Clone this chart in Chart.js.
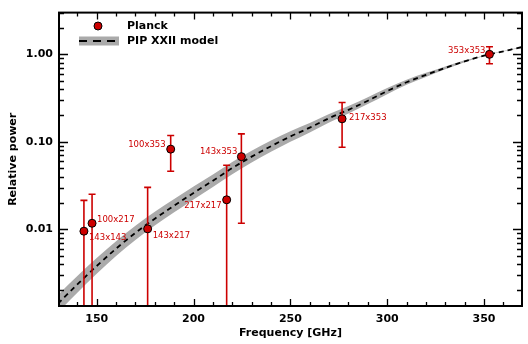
<!DOCTYPE html>
<html><head><meta charset="utf-8">
<script src="https://cdn.jsdelivr.net/npm/chart.js@4/dist/chart.umd.min.js"></script>
<style>html,body{margin:0;padding:0;background:#fff;}canvas{display:block;}</style>
</head><body>
<canvas id="c" width="528" height="344"></canvas>
<script>
// ---- data ----
const pairLabels = ["143x143","100x217","143x217","100x353","217x217","143x353","217x353","353x353"];
const pairFreq   = [143.4, 147.6, 176.3, 188.2, 217.1, 224.7, 276.7, 352.8];
const pairPower  = [0.0095, 0.0117, 0.0101, 0.0824, 0.0217, 0.0676, 0.183, 1.0];
const errHigh    = [0.0214, 0.0251, 0.0301, 0.118, 0.054, 0.123, 0.281, 1.22];
const errLow     = [0.0005, 0.0005, 0.0005, 0.046, 0.0005, 0.0117, 0.0867, 0.78];

const modelFreq  = [130,140,150,160,170,180,190,200,210,220,230,240,250,260,270,280,290,300,310,320,330,340,350,360,370];
const modelPower = [0.00141,0.00234,0.0038,0.0060,0.0091,0.0132,0.0186,0.026,0.0359,0.0501,0.0676,0.0891,0.115,0.145,0.186,0.232,0.295,0.380,0.479,0.582,0.700,0.832,0.966,1.084,1.216];
const modelUpper = [0.001775,0.002912,0.004675,0.007297,0.01099,0.01583,0.02216,0.03083,0.04237,0.05886,0.07888,0.10325,0.13204,0.1642,0.20774,0.25615,0.32273,0.41188,0.51205,0.61366,0.72793,0.85338,0.97267,1.0890,1.2273];
const modelLower = [0.00112,0.00188,0.003089,0.004933,0.007534,0.011005,0.015615,0.021926,0.030416,0.042642,0.057936,0.07689,0.100157,0.12805,0.16653,0.21013,0.26965,0.35059,0.44808,0.55197,0.67314,0.81115,0.95938,1.0790,1.2048];

const xTickValues = [150,200,250,300,350];
const xMinorTicks = [140,160,170,180,190,210,220,230,240,260,270,280,290,310,320,330,340,360];
const yTickValues = [0.01,0.1,1];
const yTickLabels = ["0.01","0.10","1.00"];
const legendLabels = ["Planck","PIP XXII model"];

// ---- styles ----
const RED = '#cc0000';
const FONT = "'DejaVu Sans'";
const labelPlace = [
  {align:'left', dx:5, dy:7},
  {align:'left', dx:5, dy:-3},
  {align:'left', dx:5, dy:7},
  {align:'right', dx:-5, dy:-4},
  {align:'right', dx:-5, dy:6},
  {align:'right', dx:-4, dy:-5},
  {align:'left', dx:7, dy:-1},
  {align:'right', dx:-4, dy:-4}
];

const toXY = (xs, ys) => xs.map((x,i)=>({x, y: ys[i]}));

const errorBars = {
  id:'errorBars',
  beforeDatasetDraw(chart, args){
    if (args.index !== 3) return;
    const {ctx, chartArea:a, scales:{x,y}} = chart;
    ctx.save();
    ctx.beginPath(); ctx.rect(a.left, a.top, a.width, a.height); ctx.clip();
    ctx.strokeStyle = RED; ctx.lineWidth = 1.6;
    pairFreq.forEach((f,i)=>{
      const px = x.getPixelForValue(f);
      const yh = y.getPixelForValue(errHigh[i]);
      const yl = y.getPixelForValue(errLow[i]);
      ctx.beginPath();
      ctx.moveTo(px, yh); ctx.lineTo(px, yl);
      ctx.moveTo(px-3.5, yh); ctx.lineTo(px+3.5, yh);
      ctx.moveTo(px-3.5, yl); ctx.lineTo(px+3.5, yl);
      ctx.stroke();
    });
    ctx.restore();
  },
  afterDatasetsDraw(chart){
    const {ctx, scales:{x,y}} = chart;
    ctx.save();
    ctx.fillStyle = RED;
    ctx.font = "8.5px " + FONT;
    ctx.textBaseline = 'middle';
    pairLabels.forEach((t,i)=>{
      const p = labelPlace[i];
      ctx.textAlign = p.align;
      ctx.fillText(t, x.getPixelForValue(pairFreq[i]) + p.dx, y.getPixelForValue(pairPower[i]) + p.dy);
    });
    ctx.restore();
  }
};

const frame = {
  id:'frame',
  afterDraw(chart){
    const {ctx, chartArea:a, scales:{x,y}} = chart;
    ctx.save();
    ctx.strokeStyle = '#000';
    ctx.lineWidth = 1.3;
    ctx.beginPath();
    const xt = (v, L) => { const px = Math.round(x.getPixelForValue(v))+0.5;
      ctx.moveTo(px, a.bottom); ctx.lineTo(px, a.bottom-L);
      ctx.moveTo(px, a.top); ctx.lineTo(px, a.top+L); };
    xTickValues.forEach(v=>xt(v,7));
    xMinorTicks.forEach(v=>xt(v,4));
    const yt = (v, L) => { if (v < y.min || v > y.max) return;
      const py = Math.round(y.getPixelForValue(v))+0.5;
      ctx.moveTo(a.left, py); ctx.lineTo(a.left+L, py);
      ctx.moveTo(a.right, py); ctx.lineTo(a.right-L, py); };
    [0.001,0.01,0.1,1].forEach(d=>{
      yt(d, 9);
      [2,3,4,5,6,7,8,9].forEach(m=>yt(m*d, 5));
    });
    ctx.stroke();
    ctx.lineWidth = 2;
    ctx.strokeRect(a.left, a.top, a.width, a.height);

    // legend
    ctx.fillStyle = RED; ctx.strokeStyle = '#000'; ctx.lineWidth = 1;
    ctx.beginPath(); ctx.arc(98, 26, 4, 0, Math.PI*2); ctx.fill(); ctx.stroke();
    ctx.fillStyle = '#aaaaaa';
    ctx.fillRect(79, 36.5, 40, 9);
    ctx.strokeStyle = '#000'; ctx.lineWidth = 2; ctx.setLineDash([8,6]);
    ctx.beginPath(); ctx.moveTo(79, 41); ctx.lineTo(119, 41); ctx.stroke();
    ctx.setLineDash([]);
    ctx.fillStyle = '#000';
    ctx.font = "bold 11px " + FONT;
    ctx.textAlign = 'left'; ctx.textBaseline = 'middle';
    ctx.fillText(legendLabels[0], 127, 26);
    ctx.fillText(legendLabels[1], 127, 41);
    ctx.restore();
  }
};

new Chart(document.getElementById('c'), {
  type: 'scatter',
  data: {
    datasets: [
      { data: toXY(modelFreq, modelUpper), showLine:true, fill:'+1', backgroundColor:'#aaaaaa',
        borderWidth:0, pointRadius:0, order:3, cubicInterpolationMode:'monotone' },
      { data: toXY(modelFreq, modelLower), showLine:true, fill:false,
        borderWidth:0, pointRadius:0, order:2, cubicInterpolationMode:'monotone' },
      { data: toXY(modelFreq, modelPower), showLine:true, fill:false, borderColor:'#000',
        borderWidth:1.8, borderDash:[5,4], pointRadius:0, order:1, cubicInterpolationMode:'monotone' },
      { data: toXY(pairFreq, pairPower), showLine:false, pointRadius:4, pointBackgroundColor:RED,
        pointBorderColor:'#000', pointBorderWidth:1, order:0 }
    ]
  },
  options: {
    responsive:false, animation:false, devicePixelRatio:1,
    layout:{padding:{top:4, right:6, left:0, bottom:0}},
    plugins:{legend:{display:false}, tooltip:{enabled:false}},
    scales:{
      x:{ type:'linear', min:130.53, max:369.6,
        afterBuildTicks: s => { s.ticks = xTickValues.map(v=>({value:v})); },
        afterFit: s => { s.height = 38; },
        grid:{display:false, drawTicks:false}, border:{display:false},
        ticks:{ font:{family:FONT, weight:'bold', size:11}, color:'#000', padding:7, maxRotation:0,
          callback: v => String(v) },
        title:{display:true, text:'Frequency [GHz]', color:'#000',
          font:{family:FONT, weight:'bold', size:11}, padding:{top:0, bottom:4}}
      },
      y:{ type:'logarithmic', min:0.001325, max:3.0,
        afterBuildTicks: s => { s.ticks = yTickValues.map(v=>({value:v})); },
        afterFit: s => { s.width = 59; },
        grid:{display:false, drawTicks:false}, border:{display:false},
        ticks:{ font:{family:FONT, weight:'bold', size:11}, color:'#000', padding:6,
          callback: v => { const i = yTickValues.findIndex(t=>Math.abs(t-v)/t<1e-6); return i>=0 ? yTickLabels[i] : ''; } },
        title:{display:true, text:'Relative power', color:'#000',
          font:{family:FONT, weight:'bold', size:11}, padding:{top:7, bottom:0}}
      }
    }
  },
  plugins:[errorBars, frame]
});
</script>
</body></html>
